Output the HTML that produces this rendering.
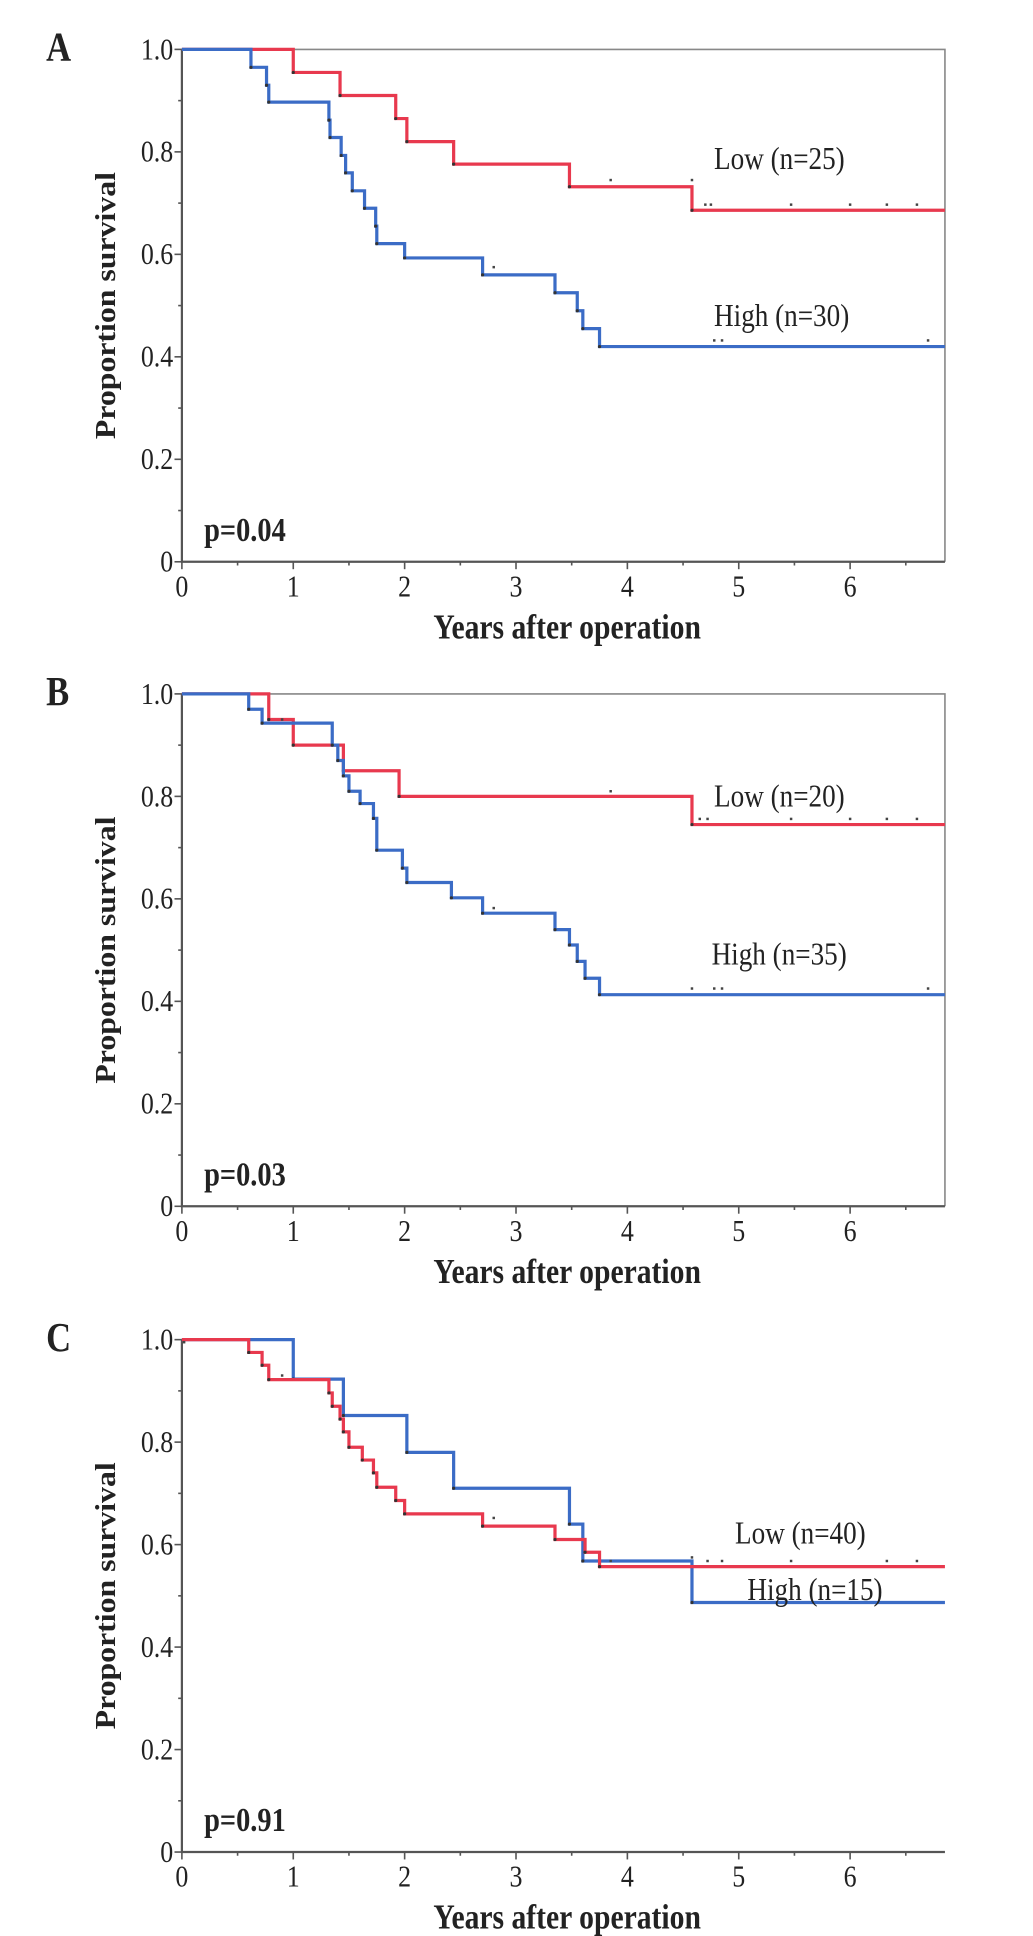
<!DOCTYPE html>
<html><head><meta charset="utf-8"><style>
html,body{margin:0;padding:0;background:#fff;}
svg{display:block;}
text{font-family:"Liberation Serif",serif;fill:#222;}
</style></head><body>
<svg id="fig" width="1033" height="1936" viewBox="0 0 836 1568" xmlns="http://www.w3.org/2000/svg"></svg>
<script>
// ---- data ----
const panelLabels = ["A","B","C"];
const pValues = ["p=0.04","p=0.03","p=0.91"];
const lowLabels = ["Low (n=25)","Low (n=20)","Low (n=40)"];
const highLabels = ["High (n=30)","High (n=35)","High (n=15)"];
const xTicks = [0,1,2,3,4,5,6];
const yTicks = [0,0.2,0.4,0.6,0.8,1.0];
const yTickLabels = ["0","0.2","0.4","0.6","0.8","1.0"];
// steps: [time, survival after event]
const lowA = [[1.0,0.955],[1.42,0.91],[1.92,0.865],[2.02,0.82],[2.44,0.776],[3.48,0.732],[4.58,0.686]];
const highA = [[0.62,0.965],[0.76,0.93],[0.78,0.897],[1.32,0.862],[1.33,0.828],[1.43,0.793],[1.47,0.759],[1.53,0.724],[1.64,0.69],[1.74,0.655],[1.75,0.621],[2.0,0.593],[2.7,0.56],[3.35,0.525],[3.55,0.49],[3.6,0.455],[3.75,0.42]];
const lowACens = [[3.85,0.745],[4.58,0.745],[4.7,0.697],[4.75,0.697],[5.47,0.697],[6.0,0.697],[6.33,0.697],[6.6,0.697]];
const highACens = [[2.8,0.575],[4.78,0.432],[4.85,0.432],[6.7,0.432]];
const lowB = [[0.78,0.95],[1.0,0.9],[1.45,0.85],[1.95,0.8],[4.58,0.745]];
const highB = [[0.6,0.97],[0.72,0.943],[1.35,0.9],[1.4,0.87],[1.45,0.84],[1.5,0.81],[1.6,0.786],[1.72,0.757],[1.75,0.695],[1.98,0.66],[2.02,0.632],[2.42,0.602],[2.7,0.572],[3.35,0.54],[3.48,0.51],[3.55,0.478],[3.62,0.445],[3.75,0.413]];
const lowBCens = [[0.9,0.95],[3.85,0.81],[4.65,0.756],[4.72,0.756],[5.47,0.756],[6.0,0.756],[6.33,0.756],[6.6,0.756]];
const highBCens = [[2.8,0.582],[4.58,0.425],[4.78,0.425],[4.85,0.425],[6.7,0.425]];
const lowC = [[0.6,0.975],[0.72,0.95],[0.78,0.922],[1.32,0.896],[1.35,0.87],[1.42,0.845],[1.45,0.82],[1.5,0.79],[1.62,0.765],[1.72,0.74],[1.75,0.712],[1.92,0.686],[2.0,0.66],[2.7,0.636],[3.35,0.61],[3.62,0.585],[3.75,0.557]];
const highC = [[1.0,0.923],[1.45,0.852],[2.02,0.78],[2.44,0.71],[3.48,0.64],[3.6,0.568],[4.58,0.487]];
const lowCCens = [[0.9,0.93],[2.8,0.652],[3.85,0.568],[4.58,0.575],[4.72,0.568],[4.85,0.568],[5.47,0.568],[6.33,0.568],[6.6,0.568]];
const highCCens = [[0.02,0.995],[6.0,0.495]];
const lows = [lowA,lowB,lowC], highs=[highA,highB,highC];
const lowCens=[lowACens,lowBCens,lowCCens], highCens=[highACens,highBCens,highCCens];

// ---- layout ----
const NS="http://www.w3.org/2000/svg";
const svg=document.getElementById('fig');
const X0=147, PXY=90.2, XR=765, XMAX=(XR-X0)/PXY;
const tops=[40,562,1085], H=415;
const RED="#e8394e", BLUE="#3b6cc6", AX="#555";
function mk(tag,attrs,parent){const e=document.createElementNS(NS,tag);for(const k in attrs)e.setAttribute(k,attrs[k]);(parent||svg).appendChild(e);return e;}
function txt(s,x,y,attrs,parent,rot,sl){
  attrs.x=0;attrs.y=0;
  attrs.transform = rot ? `translate(${x} ${y}) rotate(-90) scale(${sl||1.3},1)` : `translate(${x} ${y}) scale(1,1.18)`;
  const e=mk('text',attrs,parent);e.textContent=s;return e;}

for(let p=0;p<3;p++){
  const top=tops[p], bot=top+H;
  const sx=t=>X0+t*PXY, sy=v=>bot-v*H;
  const g=mk('g',{});
  
  
  const pl=txt(panelLabels[p],37,top+9,{'font-size':28,'font-weight':'bold',fill:'#111'},g);
  
  
  if(p<2){
    const fr=mk('path',{d:`M${X0} ${top}H${XR}V${bot}`,stroke:'#888',fill:'none','stroke-width':1.3},g);
    
    
  }
  const ax=mk('path',{d:`M${X0} ${top}V${bot}H${XR}`,stroke:AX,fill:'none','stroke-width':1.8},g);
  
  
  for(let v=0;v<=10;v++){const y=sy(v/10);mk('line',{x1:X0-(v%2?3:6),x2:X0,y1:y,y2:y,stroke:AX,'stroke-width':1.3},g);}
  yTicks.forEach((v,i)=>{const t=txt(yTickLabels[i],X0-7,sy(v)+8,{'font-size':21,'text-anchor':'end'},g);
    
    });
  for(let h=0;h<=13;h++){const x=sx(h/2);if(x>XR)break;mk('line',{x1:x,x2:x,y1:bot,y2:bot+(h%2?3:6),stroke:AX,'stroke-width':1.3},g);}
  xTicks.forEach(v=>{const t=txt(String(v),sx(v),bot+28,{'font-size':21,'text-anchor':'middle'},g);
    
    });
  const xt=txt('Years after operation',459,bot+62,{'font-size':24,'font-weight':'bold','text-anchor':'middle',fill:'#111'},g);
  
  
  const yt=txt('Proportion survival',93,top+H/2,{'font-size':23,'font-weight':'bold','text-anchor':'middle',fill:'#111'},g,true,1.12);
  
  
  const pv=txt(pValues[p],165,bot-17,{'font-size':23,'font-weight':'bold',fill:'#111'},g);
  
  
  function curve(steps,col,name){
    let d=`M${sx(0)} ${sy(1)}`;
    steps.forEach(([t,v])=>{d+=`H${sx(t)}V${sy(v)}`;});
    d+=`H${sx(XMAX)}`;
    const c=mk('path',{d,stroke:col,fill:'none','stroke-width':2.6},g);
    
    
    steps.forEach(([t,v])=>{mk('circle',{cx:sx(t),cy:sy(v),r:1.3,fill:'#333'},g);});
  }
  function cens(arr,name){arr.forEach(([t,v])=>{const c=mk('rect',{x:sx(t)-1,y:sy(v)-1,width:2,height:2,fill:'#444'},g);
    
    });}
  if(p===2){curve(highs[p],BLUE,'high-curve');curve(lows[p],RED,'low-curve');}
  else{curve(lows[p],RED,'low-curve');curve(highs[p],BLUE,'high-curve');}
  cens(lowCens[p],'low-censor-mark');cens(highCens[p],'high-censor-mark');
  const lp=[[578,top+97],[578,top+91],[595,top+165]][p];
  const hp=[[578,top+224],[576,top+219],[605,top+211]][p];
  const l1=txt(lowLabels[p],lp[0],lp[1],{'font-size':22},g);
  
  
  const l2=txt(highLabels[p],hp[0],hp[1],{'font-size':22},g);
  
  
}
</script>
</body></html>
